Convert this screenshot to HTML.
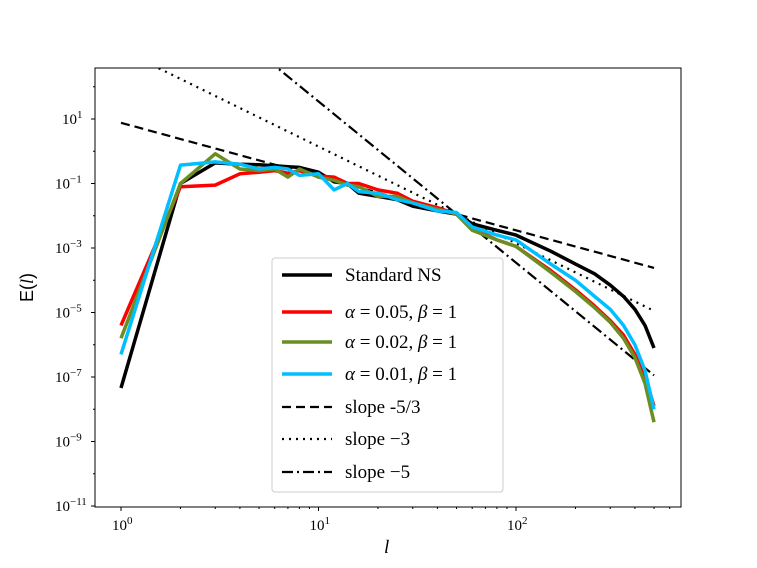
<!DOCTYPE html>
<html><head><meta charset="utf-8"><style>
body{margin:0;background:#fff}
svg{display:block;font-family:"Liberation Serif",serif}
</style></head><body>
<svg id="c" width="757" height="568" viewBox="0 0 757 568">
<text x="384" y="553" font-size="19" font-style="italic">l</text>
<text transform="translate(33,302) rotate(-90)" font-size="18" font-family="Liberation Sans,sans-serif">E(<tspan font-style="italic" font-family="Liberation Serif,serif">l</tspan>)</text>
</svg>
<script>
const lVals=[1,2,3,4,5,6,7,8,10,12,14,16,20,25,30,40,50,60,80,100,150,200,250,300,350,400,450,500];
const nsE=[-7.34,-1.0,-0.36,-0.4,-0.42,-0.45,-0.48,-0.5,-0.65,-0.95,-1.0,-1.3,-1.4,-1.5,-1.7,-1.85,-1.95,-2.25,-2.45,-2.6,-3.1,-3.5,-3.8,-4.15,-4.5,-4.9,-5.4,-6.1];
const a05E=[-5.4,-1.1,-1.05,-0.7,-0.65,-0.6,-0.68,-0.6,-0.77,-0.8,-1.0,-1.0,-1.2,-1.3,-1.55,-1.75,-1.95,-2.4,-2.75,-2.95,-3.7,-4.3,-4.8,-5.25,-5.7,-6.3,-7.0,-7.9];
const a02E=[-5.8,-1.0,-0.08,-0.55,-0.6,-0.55,-0.8,-0.55,-0.8,-0.9,-1.05,-1.1,-1.4,-1.4,-1.6,-1.8,-1.95,-2.45,-2.75,-2.95,-3.75,-4.35,-4.85,-5.3,-5.8,-6.4,-7.2,-8.4];
const a01E=[-6.3,-0.43,-0.33,-0.4,-0.55,-0.5,-0.55,-0.75,-0.7,-1.2,-1.0,-1.25,-1.3,-1.5,-1.6,-1.85,-1.9,-2.35,-2.6,-2.75,-3.5,-4.0,-4.5,-4.9,-5.4,-6.0,-6.8,-8.0];
const refL0=50, refE0=-1.95;
const slopes=[-5/3,-3,-5];
const xTicks=[0,1,2];
const yTicks=[1,-1,-3,-5,-7,-9,-11];
const L=95,R=681,T=68,B=507;
const X=l=>121+197.5*Math.log10(l);
const Y=le=>119+(1-le)*32.25;
const s=document.getElementById('c');
const NS='http://www.w3.org/2000/svg';
function el(t,a,p){const e=document.createElementNS(NS,t);for(const k in a)e.setAttribute(k,a[k]);(p||s).appendChild(e);return e;}
const defs=el('defs',{});const cp=el('clipPath',{id:'cp'},defs);el('rect',{x:L,y:T,width:R-L,height:B-T},cp);
const g=el('g',{'clip-path':'url(#cp)'});


const dashes=['9,5','2,5','11,4,2,4'];
const refNames=['slope-5-3-line','slope-3-line','slope-5-line'];
slopes.forEach((m,i)=>{
  const p=el('path',{d:`M${X(1)},${Y(refE0+m*(Math.log10(1)-Math.log10(refL0)))}L${X(500)},${Y(refE0+m*(Math.log10(500)-Math.log10(refL0)))}`,stroke:'#000','stroke-width':2.2,fill:'none','stroke-dasharray':dashes[i]},g);
  
  
});
const series=[[nsE,'#000','standard-ns-line'],[a05E,'#f00','alpha-005-line'],[a02E,'#6b8e23','alpha-002-line'],[a01E,'#00bfff','alpha-001-line']];
series.forEach(([d,c,n])=>{
  const p=el('path',{d:d.map((v,i)=>(i?'L':'M')+X(lVals[i]).toFixed(1)+','+Y(v).toFixed(1)).join(''),stroke:c,'stroke-width':3.5,fill:'none','stroke-linejoin':'round'},g);
  
  
});
el('rect',{x:L,y:T,width:R-L,height:B-T,fill:'none',stroke:'#000','stroke-width':1});
xTicks.forEach(k=>{
  const x=X(Math.pow(10,k));
  el('line',{x1:x,x2:x,y1:B,y2:B+4,stroke:'#000'});
  for(let j=2;j<10;j++){const xm=X(j*Math.pow(10,k));if(xm<R)el('line',{x1:xm,x2:xm,y1:B,y2:B+2,stroke:'#000'});}
  const t=el('text',{x:x-9,y:B+23,'font-size':15});t.textContent='10';
  
  
  const sp=el('tspan',{dy:-6,'font-size':11},t);sp.textContent=k;
});
yTicks.forEach(k=>{
  const y=Y(k);
  el('line',{x1:L-4,x2:L,y1:y,y2:y,stroke:'#000'});
  const t=el('text',{x:k<0?55:62,y:y+5,'font-size':15});t.textContent='10';
  
  
  const sp=el('tspan',{dy:-6,'font-size':11},t);sp.textContent=k<0?'\u2212'+(-k):k;
});
for(let k=-11;k<=2;k++){if(!yTicks.includes(k)){const y=Y(k);el('line',{x1:L-2,x2:L,y1:y,y2:y,stroke:'#000'});}}
const lg=document.createElementNS(NS,'g');
lg.innerHTML=`<rect x="272" y="258" width="231" height="234" rx="3" fill="#fff" fill-opacity="0.85" stroke="#ccc"/>
<line x1="282" x2="332" y1="275" y2="275" stroke="#000" stroke-width="3.5"/><text x="345" y="281">Standard NS</text>
<line x1="282" x2="332" y1="312" y2="312" stroke="#f00" stroke-width="3.5"/><text x="345" y="318"><tspan font-style="italic">α</tspan> = 0.05, <tspan font-style="italic">β</tspan> = 1</text>
<line x1="282" x2="332" y1="342" y2="342" stroke="#6b8e23" stroke-width="3.5"/><text x="345" y="348"><tspan font-style="italic">α</tspan> = 0.02, <tspan font-style="italic">β</tspan> = 1</text>
<line x1="282" x2="332" y1="374" y2="374" stroke="#00bfff" stroke-width="3.5"/><text x="345" y="380"><tspan font-style="italic">α</tspan> = 0.01, <tspan font-style="italic">β</tspan> = 1</text>
<line x1="282" x2="332" y1="407" y2="407" stroke="#000" stroke-width="2.2" stroke-dasharray="9,5"/><text x="345" y="413">slope -5/3</text>
<line x1="282" x2="332" y1="439" y2="439" stroke="#000" stroke-width="2.2" stroke-dasharray="2,5"/><text x="345" y="445">slope −3</text>
<line x1="282" x2="332" y1="472" y2="472" stroke="#000" stroke-width="2.2" stroke-dasharray="11,4,2,4"/><text x="345" y="478">slope −5</text>`;
lg.setAttribute('font-size','19');


s.appendChild(lg);
</script>
</body></html>
